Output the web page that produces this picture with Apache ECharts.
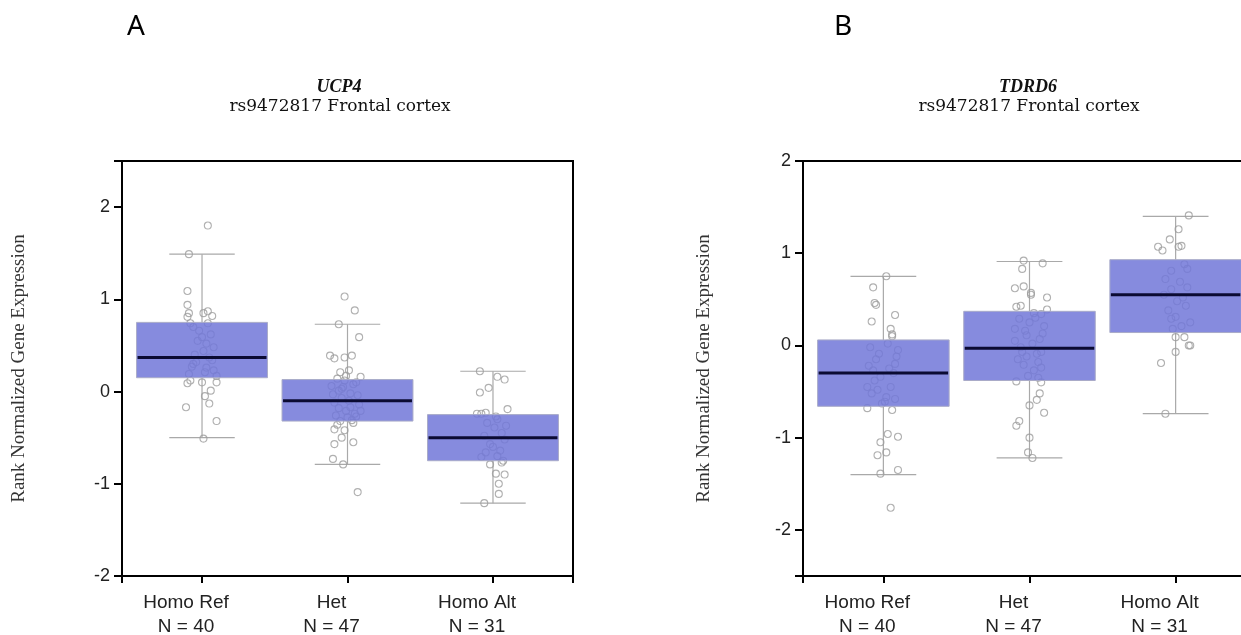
<!DOCTYPE html>
<html>
<head>
<meta charset="utf-8">
<script src="https://cdn.jsdelivr.net/npm/echarts@6/dist/echarts.min.js"></script>
<style>
  html, body { margin: 0; padding: 0; background: #fff; }
  #chart { width: 1241px; height: 635px; }
</style>
</head>
<body>
<div id="chart"></div>
<script>
// genotype groups
const categories = ['Homo Ref', 'Het', 'Homo Alt']
const sampleSizes = [40, 47, 31]

// box stats: [lower whisker, q1, median, q3, upper whisker]
const ucp4Stats = [
  [-0.50, 0.15, 0.37, 0.75, 1.49],
  [-0.79, -0.32, -0.10, 0.13, 0.73],
  [-1.21, -0.75, -0.50, -0.25, 0.22]
]
const tdrd6Stats = [
  [-1.40, -0.66, -0.30, 0.06, 0.75],
  [-1.22, -0.38, -0.03, 0.37, 0.91],
  [-0.74, 0.14, 0.55, 0.93, 1.40]
]

// jittered samples: [x offset from group, value]
const ucp4HomoRef = [
  [0.04, 1.80], [-0.09, 1.49], [-0.10, 1.09], [-0.10, 0.94], [-0.09, 0.85], [-0.10, 0.81],
  [0.01, 0.85], [0.04, 0.87], [0.07, 0.82], [-0.08, 0.74], [0.04, 0.74],
  [0.00, 0.59], [-0.03, 0.55], [0.08, 0.48], [0.01, 0.44], [0.05, 0.37], [-0.06, 0.30],
  [-0.07, 0.27], [0.03, 0.26], [-0.04, 0.32], [0.08, 0.23], [-0.09, 0.19], [0.10, 0.17],
  [-0.02, 0.66], [0.06, 0.62], [-0.05, 0.40], [0.02, 0.21], [-0.06, 0.70], [0.03, 0.52],
  [-0.08, 0.12], [0.07, 0.34],
  [-0.10, 0.09], [0.00, 0.10], [0.10, 0.10], [0.06, 0.01], [0.02, -0.05], [0.05, -0.13],
  [-0.11, -0.17], [0.10, -0.32], [0.01, -0.51]
]
const ucp4Het = [
  [-0.02, 1.03], [0.05, 0.88], [0.08, 0.59], [-0.06, 0.73], [-0.12, 0.39], [-0.09, 0.36],
  [-0.02, 0.37], [0.03, 0.39], [-0.05, 0.21], [0.01, 0.23], [0.09, 0.16], [-0.07, 0.14],
  [-0.02, 0.12],
  [-0.10, -0.03], [-0.06, 0.01], [-0.03, 0.05], [0.02, -0.17], [0.09, -0.21], [-0.01, -0.21],
  [0.05, -0.24], [-0.09, -0.12], [0.04, 0.08], [-0.04, -0.07], [0.07, -0.04], [0.00, -0.28],
  [-0.08, -0.26], [0.06, 0.10], [-0.04, 0.03], [0.01, -0.10], [0.08, -0.14], [-0.06, -0.18],
  [0.03, -0.31], [-0.01, 0.17], [0.06, -0.27], [-0.11, 0.06], [0.02, -0.02], [-0.07, -0.36],
  [-0.05, -0.32], [0.04, -0.34], [-0.09, -0.41], [-0.02, -0.42], [-0.04, -0.50], [0.04, -0.55],
  [-0.09, -0.57], [-0.10, -0.73], [-0.03, -0.79], [0.07, -1.09]
]
const ucp4HomoAlt = [
  [-0.09, 0.22], [0.03, 0.16], [0.08, 0.13], [-0.03, 0.04], [-0.09, -0.01], [0.10, -0.19],
  [-0.11, -0.24], [-0.08, -0.24], [-0.05, -0.23], [0.03, -0.30],
  [0.01, -0.39], [-0.02, -0.57], [0.05, -0.64], [0.03, -0.70], [-0.08, -0.71], [0.06, -0.45],
  [-0.04, -0.34], [0.08, -0.52], [-0.06, -0.48], [0.00, -0.60], [0.02, -0.27], [-0.05, -0.66],
  [0.09, -0.37],
  [0.07, -0.75], [-0.02, -0.79], [0.06, -0.77], [0.02, -0.89], [0.08, -0.90], [0.04, -1.00],
  [0.04, -1.11], [-0.06, -1.21]
]
const tdrd6HomoRef = [
  [0.02, 0.75], [-0.07, 0.63], [-0.06, 0.46], [-0.05, 0.44], [0.08, 0.33], [-0.08, 0.26],
  [0.05, 0.18], [0.06, 0.12], [0.06, 0.10],
  [-0.03, -0.09], [0.10, -0.05], [0.08, -0.20], [-0.10, -0.22], [-0.02, -0.34], [-0.11, -0.45],
  [0.05, -0.45], [-0.08, -0.52], [-0.01, -0.63], [0.01, -0.61], [0.03, 0.02], [-0.05, -0.15],
  [0.07, -0.30], [-0.06, -0.38], [0.02, -0.56], [0.09, -0.12], [-0.09, -0.02], [0.04, -0.25],
  [-0.04, -0.48], [0.08, -0.58], [-0.07, -0.27],
  [-0.11, -0.68], [0.06, -0.70], [0.03, -0.96], [0.10, -0.99], [-0.02, -1.05], [-0.04, -1.19],
  [0.02, -1.16], [-0.02, -1.39], [0.10, -1.35], [0.05, -1.76]
]
const tdrd6Het = [
  [-0.04, 0.92], [0.09, 0.89], [-0.05, 0.83], [-0.10, 0.62], [-0.04, 0.64], [0.01, 0.57],
  [0.01, 0.55], [0.12, 0.52], [-0.09, 0.42], [-0.06, 0.43], [0.08, 0.34], [0.12, 0.39],
  [-0.10, 0.18], [-0.03, 0.16], [0.07, 0.07], [-0.06, -0.02], [-0.05, -0.07], [0.05, -0.09],
  [0.08, -0.07], [0.03, -0.27], [0.08, -0.24], [-0.02, 0.11], [0.00, 0.25], [0.10, 0.21],
  [-0.08, -0.15], [0.04, 0.30], [-0.01, -0.33], [0.06, -0.18], [-0.07, 0.29], [0.02, 0.02],
  [0.09, 0.13], [-0.04, -0.21], [0.06, -0.35], [-0.10, 0.05], [0.03, 0.35], [-0.02, -0.12],
  [-0.09, -0.39], [0.08, -0.40], [0.07, -0.52], [0.05, -0.59], [0.00, -0.65], [0.10, -0.73],
  [-0.07, -0.82], [-0.09, -0.87], [0.00, -1.00], [-0.01, -1.16], [0.02, -1.22]
]
const tdrd6HomoAlt = [
  [0.09, 1.41], [0.02, 1.26], [-0.04, 1.15], [-0.12, 1.07], [-0.09, 1.03], [0.02, 1.07],
  [0.04, 1.08],
  [-0.03, 0.81], [0.08, 0.83], [0.03, 0.69], [-0.03, 0.61], [0.08, 0.63], [0.07, 0.43],
  [-0.03, 0.29], [0.00, 0.31], [0.10, 0.25], [-0.02, 0.18], [0.05, 0.52], [-0.07, 0.72],
  [0.01, 0.48], [-0.05, 0.38], [0.06, 0.88], [-0.08, 0.55], [0.04, 0.21],
  [0.00, 0.09], [0.06, 0.09], [0.10, 0.00], [0.09, 0.00], [0.00, -0.07], [-0.10, -0.19],
  [-0.07, -0.74]
]

const BOX_HALF = 0.45
const CAP_HALF = 0.225
const LINE_GREY = '#a9a9a9'

// whiskers + caps
function renderWhisker(params, api) {
  const x = api.value(0)
  const lowA = api.coord([x, api.value(1)])
  const q1 = api.coord([x, api.value(2)])
  const q3 = api.coord([x, api.value(4)])
  const highA = api.coord([x, api.value(5)])
  const capL = api.coord([x - CAP_HALF, api.value(1)])
  const capR = api.coord([x + CAP_HALF, api.value(1)])
  const capL2 = api.coord([x - CAP_HALF, api.value(5)])
  const capR2 = api.coord([x + CAP_HALF, api.value(5)])
  const style = { stroke: LINE_GREY, lineWidth: 1.2 }
  return {
    type: 'group',
    children: [
      { type: 'line', shape: { x1: lowA[0], y1: lowA[1], x2: q1[0], y2: q1[1] }, style },
      { type: 'line', shape: { x1: q3[0], y1: q3[1], x2: highA[0], y2: highA[1] }, style },
      { type: 'line', shape: { x1: capL[0], y1: capL[1], x2: capR[0], y2: capR[1] }, style },
      { type: 'line', shape: { x1: capL2[0], y1: capL2[1], x2: capR2[0], y2: capR2[1] }, style }
    ]
  }
}

// box + median
function renderBox(params, api) {
  const x = api.value(0)
  const tl = api.coord([x - BOX_HALF, api.value(4)])
  const br = api.coord([x + BOX_HALF, api.value(2)])
  const mL = api.coord([x - BOX_HALF, api.value(3)])
  const mR = api.coord([x + BOX_HALF, api.value(3)])
  return {
    type: 'group',
    children: [
      {
        type: 'rect',
        shape: { x: tl[0], y: tl[1], width: br[0] - tl[0], height: br[1] - tl[1] },
        style: { fill: 'rgba(114,120,216,0.86)', stroke: '#a9abc8', lineWidth: 1 }
      },
      {
        type: 'line',
        shape: { x1: mL[0] + 1, y1: mL[1], x2: mR[0] - 1, y2: mR[1] },
        style: { stroke: '#0b0b33', lineWidth: 3 }
      }
    ]
  }
}

function boxData(stats) {
  return stats.map((s, i) => [i + 1].concat(s))
}

function pointData(groups) {
  const out = []
  groups.forEach((g, i) => {
    g.forEach(p => out.push([i + 1 + p[0], p[1]]))
  })
  return out
}

function xAxisFor(gridIndex) {
  return {
    gridIndex,
    type: 'value',
    min: 0.45,
    max: 3.55,
    splitLine: { show: false },
    axisLine: { show: true, onZero: false, lineStyle: { color: '#000', width: 2 } },
    axisTick: {
      show: true,
      length: 7,
      customValues: [0.45, 1, 2, 3, 3.55],
      lineStyle: { color: '#000', width: 2 }
    },
    axisLabel: {
      customValues: [1, 2, 3],
      margin: 15,
      padding: [0, 32, 0, 0],
      fontFamily: 'Liberation Sans',
      fontSize: 19,
      lineHeight: 24,
      color: '#222',
      formatter: v => categories[Math.round(v) - 1] + '\nN = ' + sampleSizes[Math.round(v) - 1]
    }
  }
}

function yAxisFor(gridIndex, min, max, ticks, nameGap) {
  return {
    gridIndex,
    type: 'value',
    min,
    max,
    name: 'Rank Normalized Gene Expression',
    nameLocation: 'middle',
    nameGap,
    nameTextStyle: { fontFamily: 'Liberation Serif', fontSize: 19, color: '#333' },
    splitLine: { show: false },
    axisLine: { show: true, onZero: false, lineStyle: { color: '#000', width: 2 } },
    axisTick: {
      show: true,
      length: 8,
      customValues: ticks.concat([min, max]),
      lineStyle: { color: '#000', width: 2 }
    },
    axisLabel: {
      customValues: ticks,
      margin: 12,
      fontFamily: 'Liberation Sans',
      fontSize: 18,
      color: '#222'
    }
  }
}

function panelSeries(idx, stats, groups) {
  return [
    {
      type: 'custom',
      xAxisIndex: idx,
      yAxisIndex: idx,
      renderItem: renderWhisker,
      data: boxData(stats),
      z: 1,
      silent: true
    },
    {
      type: 'scatter',
      xAxisIndex: idx,
      yAxisIndex: idx,
      symbol: 'circle',
      symbolSize: 7,
      itemStyle: { color: 'rgba(255,255,255,0)', borderColor: '#9c9c9c', borderWidth: 1.1 },
      data: pointData(groups),
      z: 2,
      silent: true
    },
    {
      type: 'custom',
      xAxisIndex: idx,
      yAxisIndex: idx,
      renderItem: renderBox,
      data: boxData(stats),
      z: 3,
      silent: true
    }
  ]
}

const chart = echarts.init(document.getElementById('chart'))
chart.setOption({
  animation: false,
  backgroundColor: '#fff',
  grid: [
    { left: 122, top: 161, width: 451, height: 415, outerBoundsMode: 'none', show: true, borderColor: '#000', borderWidth: 2 },
    { left: 803, top: 161, width: 453, height: 415, outerBoundsMode: 'none', show: true, borderColor: '#000', borderWidth: 2 }
  ],
  xAxis: [xAxisFor(0), xAxisFor(1)],
  yAxis: [
    yAxisFor(0, -2, 2.5, [-2, -1, 0, 1, 2], 93),
    yAxisFor(1, -2.5, 2, [-2, -1, 0, 1, 2], 89)
  ],
  graphic: [
    { type: 'text', left: 127, top: 13, style: { text: 'A', fontFamily: 'Noto Sans', fontSize: 28, fill: '#000' } },
    { type: 'text', left: 834, top: 13, style: { text: 'B', fontFamily: 'Noto Sans', fontSize: 28, fill: '#000' } },
    { type: 'text', x: 339, y: 78, style: { text: 'UCP4', align: 'center', fontFamily: 'Liberation Serif', fontStyle: 'italic', fontWeight: 'bold', fontSize: 18, fill: '#111' } },
    { type: 'text', x: 340, y: 98, style: { text: 'rs9472817 Frontal cortex', align: 'center', fontFamily: 'DejaVu Serif', fontSize: 17, fill: '#111' } },
    { type: 'text', x: 1028, y: 78, style: { text: 'TDRD6', align: 'center', fontFamily: 'Liberation Serif', fontStyle: 'italic', fontWeight: 'bold', fontSize: 18, fill: '#111' } },
    { type: 'text', x: 1029, y: 98, style: { text: 'rs9472817 Frontal cortex', align: 'center', fontFamily: 'DejaVu Serif', fontSize: 17, fill: '#111' } }
  ],
  series: [
    ...panelSeries(0, ucp4Stats, [ucp4HomoRef, ucp4Het, ucp4HomoAlt]),
    ...panelSeries(1, tdrd6Stats, [tdrd6HomoRef, tdrd6Het, tdrd6HomoAlt])
  ]
})
</script>
</body>
</html>
